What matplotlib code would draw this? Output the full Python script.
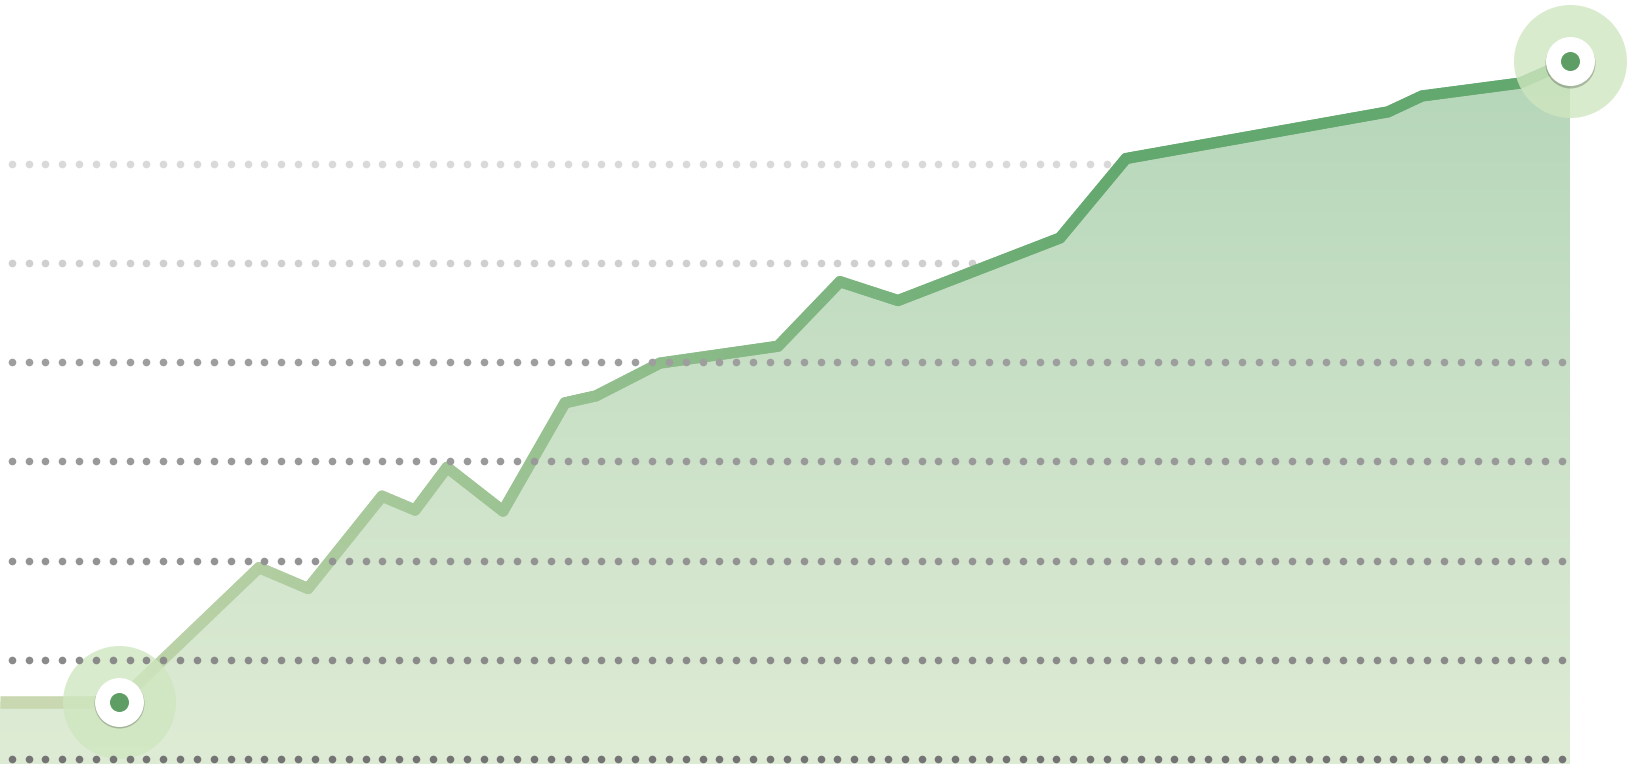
import numpy as np
import matplotlib
matplotlib.use("Agg")
import matplotlib.pyplot as plt
from matplotlib.collections import LineCollection
from matplotlib.patches import Polygon
from matplotlib.colors import to_rgb, LinearSegmentedColormap
import matplotlib.transforms as mtransforms

# ---- data ----
x_days = [0, 119, 259, 308, 382, 415, 447, 503, 565, 596, 660, 778, 840,
          898, 1060, 1126, 1388, 1422, 1520, 1570]
values = [5.8, 5.8, 19.3, 17.2, 26.5, 25.1, 29.4, 25.0, 35.9, 36.6, 39.9,
          41.6, 48.1, 46.2, 52.5, 60.5, 65.2, 66.8, 68.1, 70.3]
grid_values = [0, 10, 20, 30, 40, 50, 60]
grid_colors = ["#747474", "#8a8a8a", "#939393", "#999999", "#9e9e9e", "#cfcfcf", "#d9d9d9"]
grid_behind = [False, False, False, False, False, True, True]
highlight_idx = [1, len(values) - 1]

# ---- figure ----
W, H, DPI = 1633, 764, 100
fig = plt.figure(figsize=(W / DPI, H / DPI), dpi=DPI)
ax = fig.add_axes([0, 0, 1, 1])
PX_PER_UNIT = 9.93
BASE_PX = 759.3
ymin = (BASE_PX - H) / PX_PER_UNIT
ymax = BASE_PX / PX_PER_UNIT
ax.axis("off")

x = np.array(x_days, dtype=float)
y = np.array(values, dtype=float)

# ---- gradient area fill ----
verts = list(zip(x, y)) + [(x[-1], ymin - 1), (x[0], ymin - 1)]
poly = Polygon(verts, closed=True, facecolor="none", edgecolor="none")
ax.add_patch(poly)
fill_cmap = LinearSegmentedColormap.from_list("fill", ["#dfecd5", "#b5d6b9"])
grad = np.linspace(0, 1, 256).reshape(-1, 1)
im = ax.imshow(grad, extent=[0, W, ymin, y.max()], origin="lower",
               aspect="auto", cmap=fill_cmap, zorder=2, interpolation="bicubic")
im.set_clip_path(poly)

# ---- line with horizontal colour gradient ----
c0 = np.array(to_rgb("#cad9b1"))
c1 = np.array(to_rgb("#63a86e"))
segs, cols = [], []
for i in range(1, len(x) - 1):
    n = max(2, int(np.hypot(x[i + 1] - x[i], (y[i + 1] - y[i]) * PX_PER_UNIT) / 4))
    xs = np.linspace(x[i], x[i + 1], n + 1)
    ys = np.linspace(y[i], y[i + 1], n + 1)
    for k in range(n):
        segs.append([(xs[k], ys[k]), (xs[k + 1], ys[k + 1])])
        xm = 0.5 * (xs[k] + xs[k + 1])
        t = min(1.0, xm / 1130.0)
        cols.append(tuple(c0 + (c1 - c0) * t))
lc = LineCollection(segs, colors=cols, linewidths=8.1, capstyle="round",
                    joinstyle="round", zorder=3)
ax.add_collection(lc)
# flat first part with butt ends
ax.plot(x[:2], y[:2], color="#c9d8b0", lw=9.0, solid_capstyle="butt", zorder=3.1)

# ---- dotted gridlines ----
dot_x = np.arange(11.7, 1564, 16.85)
dot_s = (7.6 * 0.72) ** 2
for gv, gc, behind in zip(grid_values, grid_colors, grid_behind):
    ax.scatter(dot_x, np.full_like(dot_x, gv), s=dot_s, color=gc, linewidths=0,
               zorder=1 if behind else 6)

# ---- highlight markers ----
shadow_tr = mtransforms.offset_copy(ax.transData, fig=fig, x=0, y=-1.5, units="dots")
for idx in highlight_idx:
    ax.scatter([x[idx]], [y[idx]], s=(113 * 0.72) ** 2, color="#cfe6c0",
               alpha=0.8, linewidths=0, zorder=5)
    ax.scatter([x[idx]], [y[idx]], s=(50 * 0.72) ** 2, color=(0, 0, 0, 0.22),
               linewidths=0, zorder=7, transform=shadow_tr)
    ax.scatter([x[idx]], [y[idx]], s=(49 * 0.72) ** 2, color="white",
               linewidths=0, zorder=8)
    ax.scatter([x[idx]], [y[idx]], s=(19 * 0.72) ** 2, color="#5e9d64",
               linewidths=0, zorder=9)

ax.set_xlim(0, W)
ax.set_ylim(ymin, ymax)
fig.savefig("out.png", dpi=DPI, facecolor="white")
